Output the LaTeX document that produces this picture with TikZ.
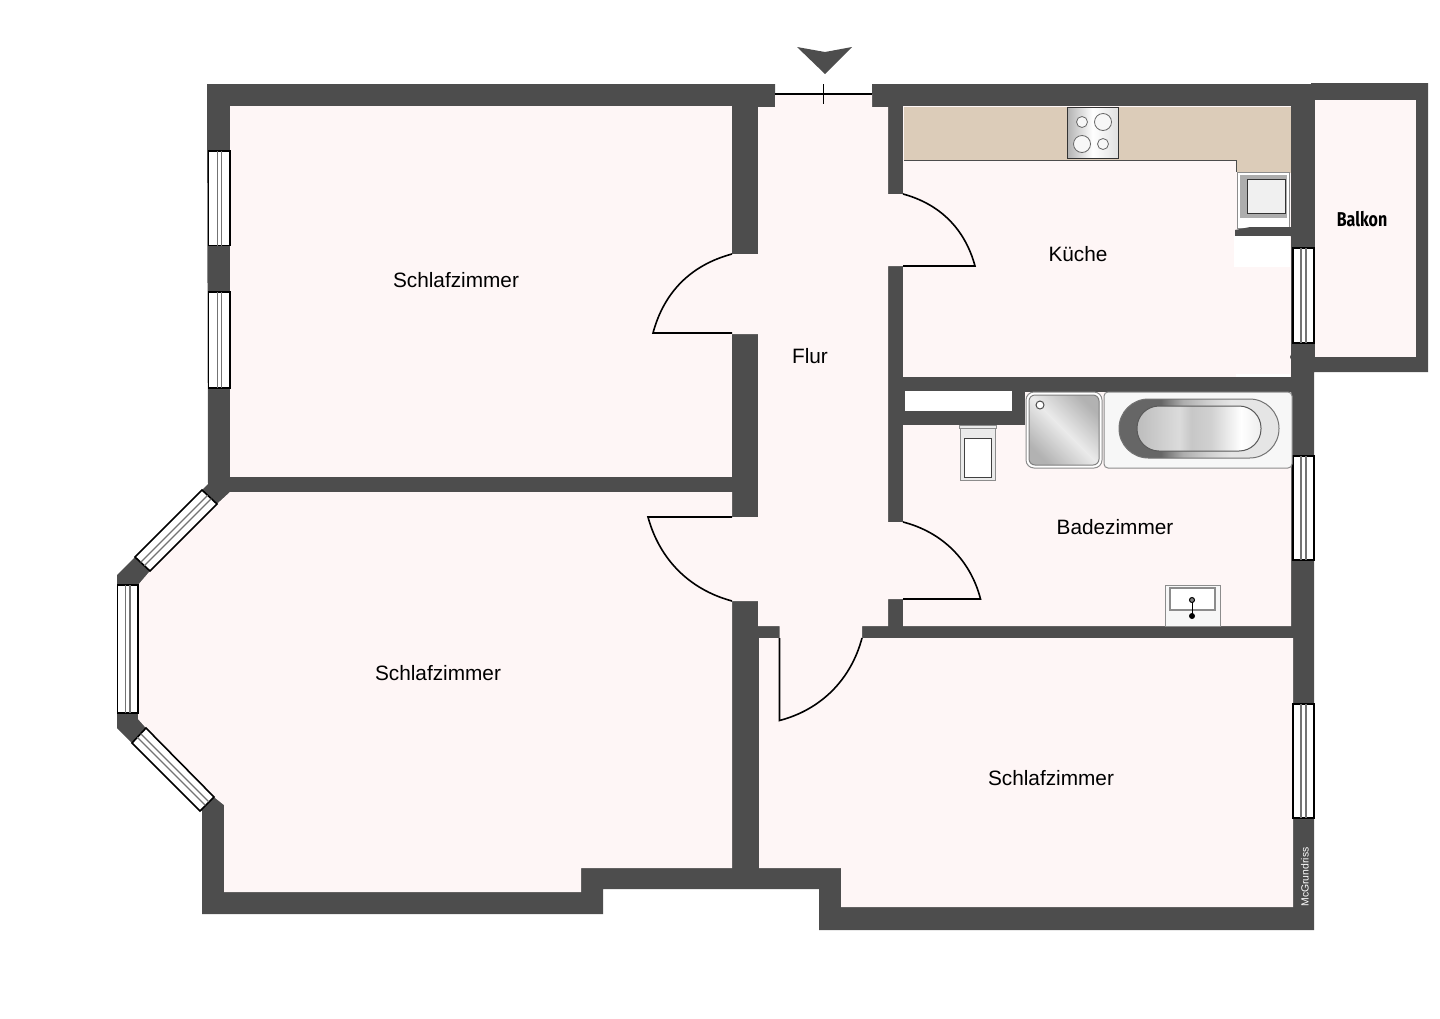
\documentclass[tikz,border=0pt]{standalone}
\usepackage{fontspec}
\setmainfont{Liberation Sans}
\newfontfamily\balkonfont[FakeStretch=0.8]{Fira Sans}
\definecolor{wallc}{HTML}{4D4D4D}
\definecolor{roomc}{HTML}{FEF6F6}
\definecolor{counterc}{HTML}{DCCCB9}
\pgfdeclarehorizontalshading{tubout}{100bp}{rgb(0bp)=(.4,.4,.4); rgb(25bp)=(.4,.4,.4); rgb(38bp)=(.4,.4,.4); rgb(45bp)=(.68,.68,.68); rgb(52bp)=(.8,.8,.8); rgb(60bp)=(.9,.9,.9); rgb(75bp)=(.9,.9,.9); rgb(100bp)=(.9,.9,.9)}
\pgfdeclarehorizontalshading{tubin}{100bp}{rgb(0bp)=(.74,.74,.74); rgb(25bp)=(.74,.74,.74); rgb(42bp)=(.86,.86,.86); rgb(47bp)=(.78,.78,.78); rgb(55bp)=(.82,.82,.82); rgb(67bp)=(1,1,1); rgb(75bp)=(.93,.93,.93); rgb(100bp)=(.93,.93,.93)}
\tikzset{
  room/.style={fill=roomc},
  wndw/.style={draw=black,fill=white,line width=0.8pt},
  wndwline/.style={draw=black!55,line width=0.6pt},
  door/.style={draw=black,line width=0.8pt},
  fixture/.style={draw=black!45,line width=0.5pt},
  label/.style={inner sep=0pt,font=\fontsize{10.4}{12}\selectfont}
}
\begin{document}
\begin{tikzpicture}[x=0.5pt,y=-0.5pt]
\useasboundingbox (0,0) rectangle (1440,1018);
%walls
\fill[wallc] (207,84) -- (775,84) -- (775,94) -- (872,94) -- (872,84) -- (1311,84) -- (1311,83) -- (1428,83) -- (1428,372) -- (1314,372) -- (1314,930) -- (819,930) -- (819,889) -- (603,889) -- (603,914) -- (202,914) -- (202,811) -- (132,743) -- (117,728) -- (117,575) -- (208,484) -- cycle;
%rooms
\fill[room] (230,106) rectangle (732,477);
\fill[room] (230,492) -- (732,492) -- (732,868) -- (581,868) -- (581,892) -- (224,892) -- (224,805) -- (214,797) -- (146,728) -- (138,719) -- (138,585) -- (150,571) -- (217,504) -- cycle;
\fill[room] (903,106) rectangle (1291,377);
\fill[room] (1025,392) -- (1291,392) -- (1291,626) -- (903,626) -- (903,425) -- (1025,425) -- cycle;
\fill[room] (759,638) -- (1293,638) -- (1293,907) -- (841,907) -- (841,868) -- (759,868) -- cycle;
\fill[room] (1315,100) rectangle (1416,357);
\fill[room] (775,94) -- (872,94) -- (872,107) -- (888,107) -- (888,194) -- (903,194) -- (903,266) -- (888,266) -- (888,522) -- (903,522) -- (903,599) -- (888,599) -- (888,626) -- (862,626) -- (862,638) -- (779.5,638) -- (779.5,626) -- (758,626) -- (758,601) -- (732,601) -- (732,517) -- (758,517) -- (758,334) -- (732,334) -- (732,254) -- (758,254) -- (758,107) -- (775,107) -- cycle;
\fill[white] (905,391) rectangle (1012,411);
%entrance
\fill[wallc] (797,47) -- (825,52) -- (852,47) -- (825,74) -- cycle;
\draw[black,line width=0.6pt] (775,94) -- (872,94);
\draw[black,line width=0.6pt] (823.5,84) -- (823.5,104);
%doors
\draw[door] (732,333) -- (653,333) .. controls (664,292) and (691,265) .. (732,254);
\draw[door] (903,194) .. controls (940,204) and (965,229) .. (975,266) -- (903,266);
\draw[door] (732,517) -- (648,517) .. controls (659.5,559.5) and (689.5,589.5) .. (732,601);
\draw[door] (903,522) .. controls (942,532) and (970.5,560) .. (980.5,599) -- (903,599);
\draw[door] (779.5,638) -- (779.5,720.5) .. controls (821,709.7) and (851,679.5) .. (862,638);
%windows
\draw[wndw] (208.5,151) rectangle (229.7,245.5);
\draw[wndwline] (217.3,151) -- (217.3,245.5) (221.3,151) -- (221.3,245.5);
\draw[wndw] (208.5,292) rectangle (229.7,388);
\draw[wndwline] (217.3,292) -- (217.3,388) (221.3,292) -- (221.3,388);
\draw[wndw] (202,490) -- (217,504) -- (150,571) -- (135,557) -- cycle;
\draw[wndwline] (207.7,495.3) -- (140.7,562.3) (211.3,498.7) -- (144.3,565.7);
\draw[wndw] (117.5,585) rectangle (138,713);
\draw[wndwline] (125.7,585) -- (125.7,713) (130,585) -- (130,713);
\draw[wndw] (132,743) -- (146,728) -- (214,797) -- (200,811) -- cycle;
\draw[wndwline] (137.3,737.3) -- (205.3,805.3) (140.7,733.7) -- (208.7,801.7);
\draw[wndw] (1293,248) rectangle (1314,343);
\draw[wndwline] (1301,248) -- (1301,343) (1306,248) -- (1306,343);
\draw[wndw] (1293,456) rectangle (1314,560);
\draw[wndwline] (1301,456) -- (1301,560) (1306,456) -- (1306,560);
\draw[wndw] (1293,704) rectangle (1314,818);
\draw[wndwline] (1301,704) -- (1301,818) (1306,704) -- (1306,818);
%kitchen fittings
\draw[counterc,fill=counterc] (904,107) -- (1290,107) -- (1290,172) -- (1237,172) -- (1237,160) -- (904,160) -- cycle;
\draw[black!70,line width=0.5pt] (904,160) -- (1236,160) -- (1236,172);
\shade[left color=black!30,right color=black!12,middle color=white,draw=black!80,line width=0.5pt] (1067.5,107) rectangle (1118,158);
\draw[black!60,fill=black!3,line width=0.4pt] (1082,122) circle (5.5);
\draw[black!60,fill=black!3,line width=0.4pt] (1103,122) circle (8.5);
\draw[black!60,fill=black!3,line width=0.4pt] (1082,144) circle (8.5);
\draw[black!60,fill=black!3,line width=0.4pt] (1103,144) circle (5.5);
\draw[fixture,fill=white] (1237,172) rectangle (1289,228);
\fill[black!32] (1240,175) rectangle (1287,218);
\draw[black!80,fill=black!6,line width=0.5pt] (1247,179) rectangle (1285,213);
\fill[wallc] (1235,236) -- (1235,230) -- (1250,227) -- (1291,227) -- (1291,236) -- cycle;
\fill[white] (1234,236) rectangle (1290,267);
\fill[white] (1236,374) rectangle (1290,377);
\fill[wallc] (1294,357) circle (4);
%bath fittings
\draw[fixture,fill=white,rounded corners=4pt] (1026,392) rectangle (1102,468);
\shade[shading=axis,top color=black!30,bottom color=black!30,middle color=black!8,shading angle=-45,draw=black!50,line width=0.5pt,rounded corners=3pt] (1029,395) rectangle (1099,465);
\draw[black!70,fill=white,line width=0.5pt] (1040,405) circle (4);
\draw[fixture,fill=black!3,rounded corners=2pt] (1104,392) rectangle (1292,468);
\shade[shading=tubout,draw=black!55,line width=0.5pt,rounded corners=14.7pt] (1119,399) rectangle (1279,458);
\shade[shading=tubin,draw=black!65,line width=0.5pt,rounded corners=11pt] (1137,406) rectangle (1261,451);
\draw[fixture,fill=black!8] (960,427) rectangle (995,480);
\draw[fixture,fill=black!8] (959,425) rectangle (996,428);
\draw[black!75,fill=white,line width=0.5pt] (964,438) rectangle (991,477);
\draw[fixture,fill=black!3] (1165,585) rectangle (1220,626);
\draw[black!45,fill=white,line width=1pt] (1170,588) rectangle (1215,610);
\draw[black,line width=0.5pt] (1192,600) -- (1192,616);
\draw[black,fill=black!50,line width=0.5pt] (1192,600) circle (2.5);
\fill[black] (1192,616) circle (3);
%labels
\node[label] (schlafa) at (456,280) {Schlafzimmer};
\node[label] (schlafb) at (438,673) {Schlafzimmer};
\node[label] (schlafc) at (1051,778) {Schlafzimmer};
\node[label] (flur) at (810,356) {Flur};
\node[label] (kueche) at (1078,254) {Küche};
\node[label] (bad) at (1115,527) {Badezimmer};
\node[inner sep=0pt,font=\balkonfont\bfseries\fontsize{10}{12}\selectfont] (balkon) at (1362,219) {Balkon};
\node[inner sep=0pt,white,rotate=90,font=\fontsize{5.2}{6}\selectfont] (mcg) at (1305,877) {McGrundriss};
\end{tikzpicture}
\end{document}
